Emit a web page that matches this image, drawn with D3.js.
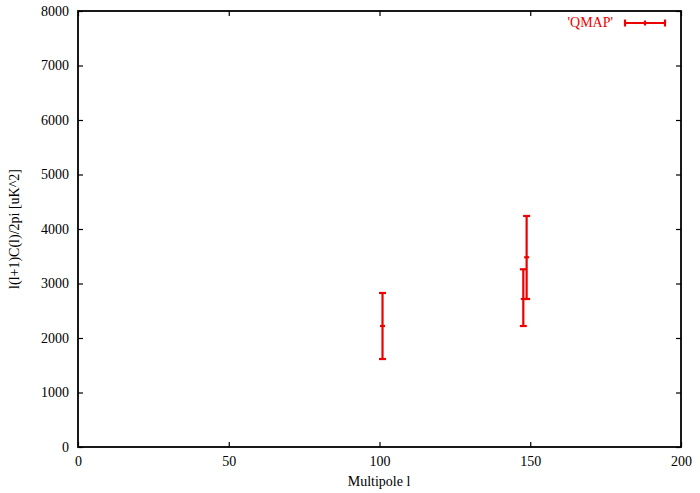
<!DOCTYPE html>
<html><head><meta charset="utf-8">
<script src="https://cdn.jsdelivr.net/npm/d3@7"></script>
<style>body{margin:0;background:#fff}svg{display:block}text{font-family:"Liberation Serif","DejaVu Serif",serif;font-size:14px}</style>
</head><body>
<svg id="c" width="700" height="493"></svg>
<script>
const multipoles = [101, 147.7, 148.8];
const centers = [2220, 2716, 3481];
const upper = [2826, 3261, 4239];
const lower = [1614, 2220, 2716];
const xTicks = [0, 50, 100, 150, 200];
const yTicks = [0, 1000, 2000, 3000, 4000, 5000, 6000, 7000, 8000];
const seriesName = "'QMAP'";

const svg = d3.select("#c");
const L = 78, R = 681, T = 11, B = 447;
const x = d3.scaleLinear().domain([0, 200]).range([L, R]);
const y = d3.scaleLinear().domain([0, 8000]).range([B, T]);
const red = "#ee0000";

svg.append("g").attr("transform", `translate(0,${B})`)
  .call(d3.axisBottom(x).tickValues(xTicks).tickSizeInner(-5).tickSizeOuter(0).tickPadding(9))
  .call(g => { g.select(".domain").remove(); g.selectAll("line").attr("stroke", "#000").attr("stroke-width", 1.2); g.selectAll("text").attr("font-size", 14).attr("font-family", "Liberation Serif"); });
svg.append("g").attr("transform", `translate(0,${T})`)
  .call(d3.axisTop(x).tickValues(xTicks).tickSizeInner(-5).tickSizeOuter(0).tickFormat(""))
  .call(g => { g.select(".domain").remove(); g.selectAll("line").attr("stroke", "#000").attr("stroke-width", 1.2); });
svg.append("g").attr("transform", `translate(${L},0)`)
  .call(d3.axisLeft(y).tickValues(yTicks).tickSizeInner(-5).tickSizeOuter(0).tickPadding(9).tickFormat(d3.format("d")))
  .call(g => { g.select(".domain").remove(); g.selectAll("line").attr("stroke", "#000").attr("stroke-width", 1.2); g.selectAll("text").attr("font-size", 14).attr("font-family", "Liberation Serif"); });
svg.append("g").attr("transform", `translate(${R},0)`)
  .call(d3.axisRight(y).tickValues(yTicks).tickSizeInner(-5).tickSizeOuter(0).tickFormat(""))
  .call(g => { g.select(".domain").remove(); g.selectAll("line").attr("stroke", "#000").attr("stroke-width", 1.2); });

svg.append("rect").attr("x", L).attr("y", T).attr("width", R - L).attr("height", B - T)
  .attr("fill", "none").attr("stroke", "#000").attr("stroke-width", 1.8);

// error bars
const data = multipoles.map((l, i) => ({l, c: centers[i], hi: upper[i], lo: lower[i]}));
const eb = svg.append("g").attr("stroke", red).attr("stroke-width", 2.2);
data.forEach(d => {
  const px = x(d.l);
  eb.append("line").attr("x1", px).attr("x2", px).attr("y1", y(d.lo)).attr("y2", y(d.hi));
  eb.append("line").attr("x1", px - 3.5).attr("x2", px + 3.5).attr("y1", y(d.lo)).attr("y2", y(d.lo));
  eb.append("line").attr("x1", px - 3.5).attr("x2", px + 3.5).attr("y1", y(d.hi)).attr("y2", y(d.hi));
  eb.append("line").attr("x1", px - 2.5).attr("x2", px + 2.5).attr("y1", y(d.c)).attr("y2", y(d.c));
});

// legend
svg.append("text").attr("x", 613).attr("y", 27).attr("text-anchor", "end").attr("fill", red).text(seriesName);
const lg = svg.append("g").attr("stroke", red).attr("stroke-width", 2.2);
lg.append("line").attr("x1", 625).attr("x2", 665).attr("y1", 23).attr("y2", 23);
[625, 665].forEach(v => lg.append("line").attr("x1", v).attr("x2", v).attr("y1", 19.5).attr("y2", 26.5));
lg.append("line").attr("x1", 645).attr("x2", 645).attr("y1", 20.5).attr("y2", 25.5);

// axis labels
svg.append("text").attr("x", 379).attr("y", 486).attr("text-anchor", "middle").text("Multipole l");
svg.append("text").attr("transform", "translate(19,229) rotate(-90)").attr("text-anchor", "middle").text("l(l+1)C(l)/2pi [uK^2]");
</script>
</body></html>
